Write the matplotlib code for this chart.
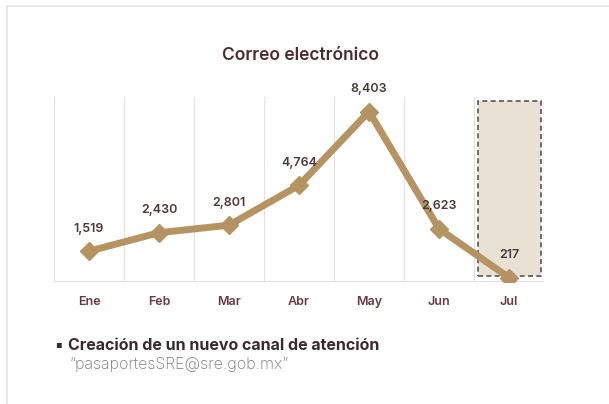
import matplotlib
matplotlib.use("Agg")
import matplotlib.pyplot as plt
from matplotlib.patches import Rectangle
from matplotlib.lines import Line2D

months = ["Ene", "Feb", "Mar", "Abr", "May", "Jun", "Jul"]
values = [1519, 2430, 2801, 4764, 8403, 2623, 217]
labels = ["1,519", "2,430", "2,801", "4,764", "8,403", "2,623", "217"]
title = "Correo electrónico"
bullet_text = "Creación de un nuevo canal de atención"
email_text = "\u201cpasaportesSRE@sre.gob.mx\u201d"

FONT = ["Inter", "DejaVu Sans"]
plt.rcParams["font.family"] = FONT

W, H = 609, 404
fig = plt.figure(figsize=(W / 100, H / 100), dpi=100)
fig.patch.set_facecolor("white")

# slide border
fig.add_artist(Line2D([7 / W, 1], [1 - 6 / H, 1 - 6 / H], color="#e4e4e4", lw=1.2))
fig.add_artist(Line2D([7 / W, 7 / W], [0, 1 - 6 / H], color="#e4e4e4", lw=1.2))

left, right = 54, 544
top, bottom = 97, 282
ax = fig.add_axes([left / W, 1 - bottom / H, (right - left) / W, (bottom - top) / H])
ax.set_facecolor("none")
n = len(months)
x = list(range(n))
ax.set_xlim(-0.5, n - 0.5)
ax.set_ylim(0, 9120)

for b in [i - 0.5 for i in range(n + 1)]:
    ax.axvline(b, color="#e3e3e3", lw=0.9, zorder=0)
ax.axhline(0, color="#d9d9d9", lw=1.2, zorder=0)

# highlighted (partial) month
ax.add_patch(Rectangle((n - 1 - 0.45, 300), 0.9, 8620, facecolor="#e9e1d3",
                       edgecolor="#555555", lw=1.2, ls=(0, (3, 2)), zorder=1))

ax.plot(x, values, color="#b69462", lw=5, marker="D", markersize=9,
        solid_joinstyle="round", zorder=3)

for xi, v, lab in zip(x, values, labels):
    ax.annotate(lab, (xi, v), xytext=(0, 12), textcoords="offset points",
                ha="center", va="bottom", fontsize=9, color="#4a3a3a",
                fontweight="semibold", zorder=4)

ax.set_xticks(x)
ax.set_xticklabels(months, fontsize=9, color="#6a3a40", fontweight="semibold")
ax.tick_params(axis="x", length=0, pad=10)
ax.set_yticks([])
for s in ax.spines.values():
    s.set_visible(False)

fig.text(301 / W, 1 - 56 / H, title, ha="center", va="center", fontsize=12.5,
         color="#4e2a30", fontweight="semibold")

fig.text(55 / W, 1 - 344 / H, "\u25aa", ha="left", va="center", fontsize=7,
         color="#3a2a2e", family=["DejaVu Sans"])
fig.text(68 / W, 1 - 345 / H, bullet_text, ha="left", va="center", fontsize=11.5,
         color="#3a2a2e", fontweight="bold")
fig.text(70 / W, 1 - 364 / H, email_text, ha="left", va="center", fontsize=11.5,
         color="#7a7a7a", fontweight="light")

fig.savefig("out.png", dpi=100)
